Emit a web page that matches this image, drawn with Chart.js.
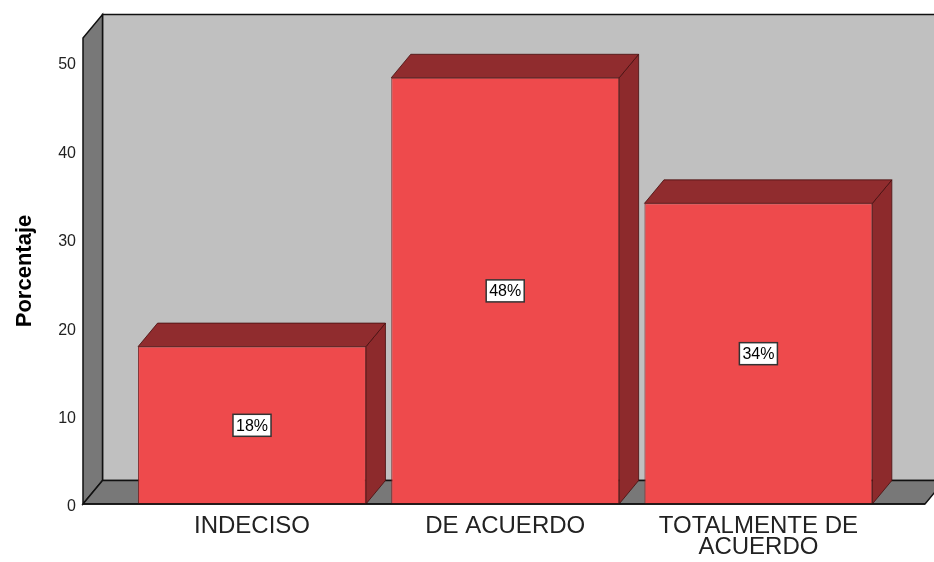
<!DOCTYPE html>
<html><head><meta charset="utf-8">
<script src="https://cdn.jsdelivr.net/npm/chart.js@4.4.0/dist/chart.umd.min.js"></script>
<style>html,body{margin:0;padding:0;background:#fff}#wrap{width:934px;height:562px}</style>
</head><body><div id="wrap"><canvas id="c" width="934" height="562"></canvas></div>
<script>
const categories = ["INDECISO", "DE ACUERDO", "TOTALMENTE DE ACUERDO"];
const tickLabels = [["INDECISO"], ["DE ACUERDO"], ["TOTALMENTE DE", "ACUERDO"]];
const percentValues = [17.8, 48.2, 34.0];
const valueLabels = ["18%", "48%", "34%"];
const yTicks = [0, 10, 20, 30, 40, 50];

const FONT = "'Liberation Sans', Arial, sans-serif";
const DEPTH = { dx: 19.5, dy: -23.5 };

function poly(ctx, pts, fill, stroke, lw) {
  ctx.beginPath();
  ctx.moveTo(pts[0][0], pts[0][1]);
  for (let i = 1; i < pts.length; i++) ctx.lineTo(pts[i][0], pts[i][1]);
  ctx.closePath();
  ctx.fillStyle = fill; ctx.fill();
  if (stroke) { ctx.strokeStyle = stroke; ctx.lineWidth = lw || 1; ctx.stroke(); }
}

const box3d = {
  id: 'box3d',
  beforeDatasetsDraw(chart) {
    const { ctx, chartArea: { left, right, top, bottom } } = chart;
    const { dx, dy } = DEPTH;
    ctx.save();
    ctx.lineJoin = 'miter';
    // back wall
    poly(ctx, [[left + dx, top + dy], [right + dx, top + dy], [right + dx, bottom + dy], [left + dx, bottom + dy]], '#C0C0C0', '#111', 1.5);
    // left wall
    poly(ctx, [[left, top], [left + dx, top + dy], [left + dx, bottom + dy], [left, bottom]], '#787878', '#111', 1.5);
    // floor
    poly(ctx, [[left, bottom], [left + dx, bottom + dy], [right + dx, bottom + dy], [right, bottom]], '#787878', '#111', 1.5);
    // bar side and top faces
    const meta = chart.getDatasetMeta(0);
    meta.data.forEach(bar => {
      const { x, y, base, width } = bar.getProps(['x', 'y', 'base', 'width'], true);
      const l = x - width / 2, r = x + width / 2;
      poly(ctx, [[r, y], [r + dx, y + dy], [r + dx, base + dy], [r, base]], '#8D2A2C', 'rgba(70,15,15,0.8)', 1);
      poly(ctx, [[l, y], [l + dx, y + dy], [r + dx, y + dy], [r, y]], '#902C2E', 'rgba(70,15,15,0.8)', 1);
    });
    ctx.restore();
  },
  afterDatasetsDraw(chart) {
    const { ctx, chartArea: { left, right, bottom } } = chart;
    ctx.save();
    ctx.strokeStyle = '#111'; ctx.lineWidth = 1.5;
    ctx.beginPath(); ctx.moveTo(left, bottom); ctx.lineTo(right, bottom); ctx.stroke();
    const meta = chart.getDatasetMeta(0);
    ctx.font = '16px ' + FONT;
    ctx.textAlign = 'center'; ctx.textBaseline = 'middle';
    meta.data.forEach((bar, i) => {
      const { x, y, base } = bar.getProps(['x', 'y', 'base'], true);
      const cy = (y + base) / 2;
      const t = valueLabels[i];
      const w = ctx.measureText(t).width + 6, h = 22;
      ctx.fillStyle = '#fff';
      ctx.fillRect(x - w / 2, cy - h / 2, w, h);
      ctx.strokeStyle = '#333'; ctx.lineWidth = 1.5;
      ctx.strokeRect(x - w / 2, cy - h / 2, w, h);
      ctx.fillStyle = '#000';
      ctx.fillText(t, x, cy + 1);
    });
    ctx.restore();
  }
};

new Chart(document.getElementById('c'), {
  type: 'bar',
  data: {
    datasets: [{
      label: 'Porcentaje',
      data: categories.map((c, i) => ({ x: i, y: percentValues[i] })),
      backgroundColor: '#EE4A4C',
      borderColor: '#7A2426',
      borderWidth: 1,
      borderSkipped: false,
      barPercentage: 0.9,
      categoryPercentage: 1.0
    }]
  },
  options: {
    responsive: false,
    animation: false,
    layout: { padding: { top: 38, right: 9, left: 0, bottom: 0 } },
    plugins: { legend: { display: false }, tooltip: { enabled: false } },
    scales: {
      x: {
        type: 'linear',
        offset: false,
        min: -0.6675,
        max: 2.658,
        grid: { display: false, drawTicks: false, offset: false },
        border: { display: false },
        afterBuildTicks: s => { s.ticks = categories.map((c, i) => ({ value: i })); },
        afterFit: s => { s.height = 58; },
        ticks: {
          autoSkip: false, maxRotation: 0, minRotation: 0, padding: 12,
          color: '#222',
          font: { family: FONT, size: 24, lineHeight: 0.875 },
          callback: (v) => tickLabels[Math.round(v)]
        }
      },
      y: {
        min: 0,
        max: 52.7,
        grid: { display: false, drawTicks: false },
        border: { display: false },
        afterBuildTicks: s => { s.ticks = yTicks.map(v => ({ value: v })); },
        afterFit: s => { s.width = 83; },
        ticks: { padding: 7, labelOffset: 3, color: '#222', font: { family: FONT, size: 16 } },
        title: {
          display: true, text: 'Porcentaje', color: '#000',
          font: { family: FONT, size: 22, weight: 'bold' },
          padding: { top: 12, bottom: 0 }
        }
      }
    }
  },
  plugins: [box3d]
});
</script>
</body></html>
